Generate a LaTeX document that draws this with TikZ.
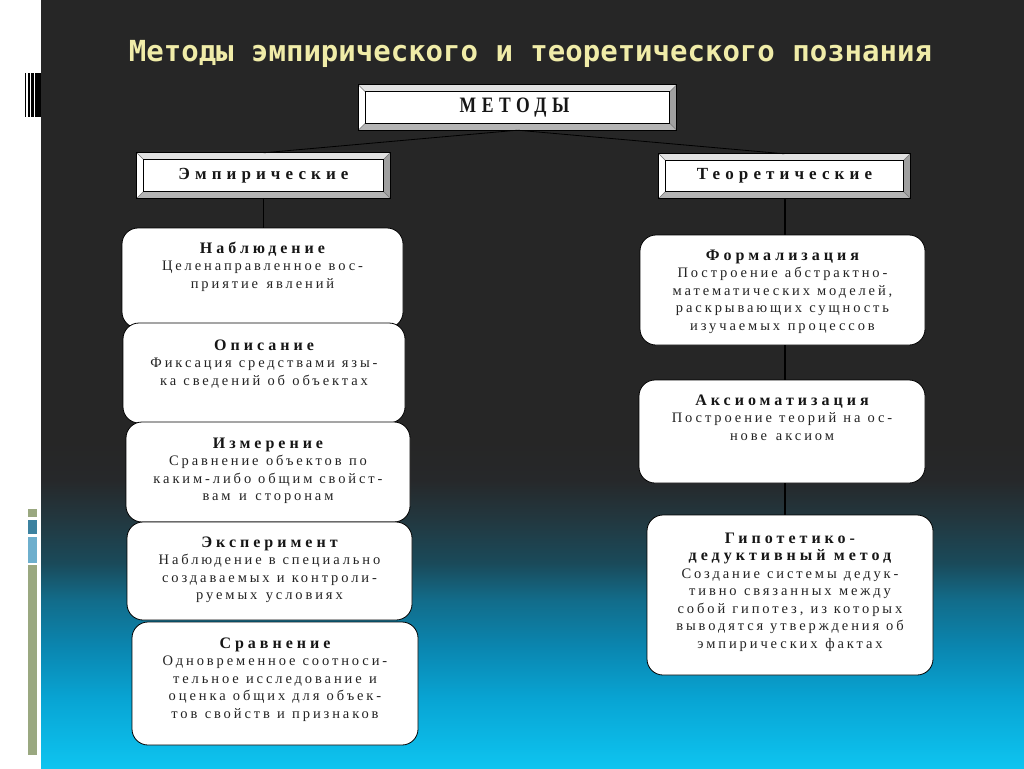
\documentclass[tikz,border=0pt]{standalone}
\usepackage{fontspec}
\newfontfamily\maintitlefont{DejaVu Sans Mono}
\newfontfamily\bigfont[LetterSpace=25,FakeStretch=0.8]{Liberation Serif}
\newfontfamily\hdrfont[LetterSpace=30]{Liberation Serif}
\newfontfamily\ttlfont[LetterSpace=25]{Liberation Serif}
\newfontfamily\dscfont[LetterSpace=20]{Liberation Serif}
\definecolor{c0}{RGB}{14,196,240}
\definecolor{c1}{RGB}{8,165,212}
\definecolor{c2}{RGB}{10,134,176}
\definecolor{c3}{RGB}{18,108,138}
\definecolor{c4}{RGB}{26,74,90}
\definecolor{c5}{RGB}{34,56,64}
\definecolor{c6}{RGB}{38,40,42}
\definecolor{c7}{RGB}{38,38,38}
\definecolor{titleyellow}{RGB}{240,236,168}
\definecolor{barolive}{RGB}{154,168,128}
\definecolor{barteal}{RGB}{60,130,160}
\definecolor{barlblue}{RGB}{110,175,205}
\definecolor{bevlight}{RGB}{225,225,225}
\definecolor{bevdark}{RGB}{160,160,160}
\definecolor{bevmid}{RGB}{180,180,180}
\definecolor{ttlgray}{RGB}{22,22,22}
\definecolor{dscgray}{RGB}{35,35,35}
\pgfdeclareverticalshading{bgsh}{100bp}{color(0bp)=(c0); color(25bp)=(c0); color(29.43bp)=(c1); color(32.88bp)=(c2); color(35.95bp)=(c3); color(38.35bp)=(c4); color(41.15bp)=(c5); color(43.75bp)=(c6); color(46.35bp)=(c7); color(75bp)=(c7); color(100bp)=(c7)}
\newcommand\bevelframe[1]{%
 \fill[bevlight] (#1.north west) -- (#1.north east) -- ([shift={(-7,7)}]#1.north east) -- ([shift={(7,7)}]#1.north west) -- cycle;
 \fill[white] (#1.north west) -- ([shift={(7,7)}]#1.north west) -- ([shift={(7,-7)}]#1.south west) -- (#1.south west) -- cycle;
 \fill[bevdark] (#1.north east) -- (#1.south east) -- ([shift={(-7,-7)}]#1.south east) -- ([shift={(-7,7)}]#1.north east) -- cycle;
 \fill[bevmid] (#1.south west) -- (#1.south east) -- ([shift={(-7,-7)}]#1.south east) -- ([shift={(7,-7)}]#1.south west) -- cycle;
 \draw[line width=0.4pt,black!55] (#1.north west) -- ([shift={(7,7)}]#1.north west)
   (#1.north east) -- ([shift={(-7,7)}]#1.north east)
   (#1.south west) -- ([shift={(7,-7)}]#1.south west)
   (#1.south east) -- ([shift={(-7,-7)}]#1.south east);
 \draw[line width=0.8pt] ([shift={(7,7)}]#1.north west) rectangle ([shift={(-7,-7)}]#1.south east);
 \draw[line width=1pt] (#1.north west) rectangle (#1.south east);
}
\tikzset{
 hdrbox/.style={fill=white, inner sep=0pt, text=ttlgray},
 rbox/.style={draw=black, line width=0.8pt, fill=white, rounded corners=16pt, inner sep=0pt},
 boxtxt/.style={anchor=base, text width=280pt, align=center, inner sep=0pt, text=dscgray,
   font=\dscfont\fontsize{14.5}{17.5}\selectfont},
 stem/.style={line width=1.8pt, black},
 fork/.style={line width=0.8pt, black},
}
\newcommand\sps{\spaceskip=6pt plus 1pt\relax}
\newcommand\bt[1]{{\ttlfont\bfseries\color{ttlgray}\fontsize{16}{17.5}\selectfont\spaceskip=7pt plus 1pt\relax #1}}
\begin{document}
\begin{tikzpicture}[x=1pt,y=-1pt]
\useasboundingbox (0,0) rectangle (1024,768);
\fill[white] (0,0) rectangle (41,768);
\shade[shading=bgsh] (41,0) rectangle (1024,768);
% left decorations
\fill[black] (25,73) rectangle (26.3,117);
\fill[black] (28,73) rectangle (29.5,117);
\fill[black] (31,73) rectangle (33.5,117);
\fill[black] (35,73) rectangle (41,117);
\fill[barolive] (28,509) rectangle (36.5,517);
\fill[barteal] (28,519.5) rectangle (36.5,534);
\fill[barlblue] (28,537) rectangle (36.5,563);
\fill[barolive] (28,565) rectangle (36.5,755);
% title
\node[anchor=base, inner sep=0pt, text=titleyellow, font=\maintitlefont\bfseries\fontsize{29}{32}\selectfont] (title) at (530.5,62) {Методы эмпирического и теоретического познания};
% header boxes
\node[hdrbox, minimum width=318pt, minimum height=45pt, font=\bigfont\bfseries\fontsize{22}{24}\selectfont] (met) at (517.5,107.5) {\hspace{-6pt}МЕТОДЫ};
\bevelframe{met}
\node[hdrbox, minimum width=253pt, minimum height=45pt, font=\hdrfont\bfseries\fontsize{17}{19}\selectfont] (emp) at (263.5,175.5) {Эмпирические};
\bevelframe{emp}
\node[hdrbox, minimum width=251pt, minimum height=44pt, font=\hdrfont\bfseries\fontsize{17}{19}\selectfont] (teor) at (784.5,176) {Теоретические};
\bevelframe{teor}
\draw[fork] (met.south) -- (emp.north);
\draw[fork] (met.south) -- (teor.north);
% left column
\node[rbox, minimum width=281pt, minimum height=100pt] (nab) at (262.5,278) {};
\draw[stem] (emp.south) -- (emp.south |- nab.north);
\node[boxtxt] (nabt) at (262.5,253) {\sps\bt{Наблюдение}\\Целенаправленное вос-\\приятие явлений};
\node[rbox, minimum width=282pt, minimum height=100pt] (opis) at (264,373) {};
\node[boxtxt] (opist) at (264,350) {\sps\bt{Описание}\\Фиксация средствами язы-\\ка сведений об объектах};
\node[rbox, minimum width=284pt, minimum height=100pt] (izm) at (268,472) {};
\node[boxtxt] (izmt) at (268,448) {\sps\bt{Измерение}\\Сравнение объектов по\\каким-либо общим свойст-\\вам и сторонам};
\node[rbox, minimum width=285pt, minimum height=98pt] (eksp) at (269.5,571) {};
\node[boxtxt] (ekspt) at (269.5,547) {\sps\bt{Эксперимент}\\Наблюдение в специально\\создаваемых и контроли-\\руемых условиях};
\node[rbox, minimum width=286pt, minimum height=123pt] (srav) at (275,683.5) {};
\node[boxtxt] (sravt) at (275,648) {\sps\bt{Сравнение}\\Одновременное соотноси-\\тельное исследование и\\оценка общих для объек-\\тов свойств и признаков};
% right column
\coordinate (rx) at (785,0);
\node[rbox, minimum width=285pt, minimum height=110pt] (form) at (782.5,290) {};
\node[rbox, minimum width=286pt, minimum height=103pt] (aks) at (782,431.5) {};
\node[rbox, minimum width=286pt, minimum height=160pt] (gip) at (790,595) {};
\draw[stem] (rx |- teor.south) -- (rx |- form.north);
\draw[stem] (rx |- form.south) -- (rx |- aks.north);
\draw[stem] (rx |- aks.south) -- (rx |- gip.north);
\node[boxtxt] (formt) at (782.5,260) {\sps\bt{Формализация}\\Построение абстрактно-\\математических моделей,\\раскрывающих сущность\\изучаемых процессов};
\node[boxtxt] (akst) at (782,405) {\sps\bt{Аксиоматизация}\\Построение теорий на ос-\\нове аксиом};
\node[boxtxt] (gipt) at (790,543) {\sps\bt{Гипотетико-}\\\bt{дедуктивный метод}\\Создание системы дедук-\\тивно связанных между\\собой гипотез, из которых\\выводятся утверждения об\\эмпирических фактах};
\end{tikzpicture}
\end{document}
